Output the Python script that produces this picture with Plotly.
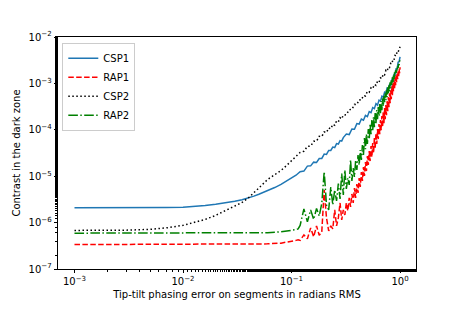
import plotly.graph_objects as go

# ---- sample positions (tip-tilt error, rad RMS) ----
x_csp = [0.001, 0.002, 0.003, 0.005, 0.007, 0.01, 0.013, 0.016, 0.02, 0.025,
         0.03, 0.035, 0.04, 0.045, 0.05, 0.06, 0.07, 0.08, 0.09, 0.1, 0.11,
         0.12, 0.13, 0.14, 0.15, 0.16, 0.17, 0.18, 0.19,
         0.20, 0.21, 0.22, 0.23, 0.24, 0.25, 0.26, 0.27, 0.28, 0.29, 0.30,
         0.32, 0.34, 0.36, 0.38, 0.40, 0.42, 0.44, 0.46, 0.48, 0.50,
         0.52, 0.54, 0.56, 0.58, 0.60, 0.62, 0.64, 0.66, 0.68, 0.70,
         0.72, 0.74, 0.76, 0.78, 0.80, 0.82, 0.84, 0.86, 0.88, 0.90,
         0.92, 0.94, 0.96, 0.98, 1.00]

x_rap = [0.001, 0.005, 0.01, 0.02, 0.04, 0.06, 0.08, 0.09, 0.1, 0.105, 0.11, 0.115,
         0.12, 0.13, 0.14, 0.15, 0.16, 0.17, 0.18, 0.19,
         0.20, 0.21, 0.22, 0.23, 0.24, 0.25, 0.26, 0.27, 0.28, 0.29,
         0.30, 0.31, 0.32, 0.33, 0.34, 0.35, 0.36, 0.37, 0.38, 0.39,
         0.40, 0.41, 0.42, 0.43, 0.44, 0.45, 0.46, 0.47, 0.48, 0.49,
         0.50, 0.51, 0.52, 0.53, 0.54, 0.55, 0.56, 0.57, 0.58, 0.59,
         0.60, 0.61, 0.62, 0.63, 0.64, 0.65, 0.66, 0.67, 0.68, 0.69,
         0.70, 0.71, 0.72, 0.73, 0.74, 0.75, 0.76, 0.77, 0.78, 0.79,
         0.80, 0.81, 0.82, 0.83, 0.84, 0.85, 0.86, 0.87, 0.88, 0.89,
         0.90, 0.91, 0.92, 0.93, 0.94, 0.95, 0.96, 0.97, 0.98, 0.99,
         1.00]

# ---- contrast in the dark zone ----
csp1 = [2.10e-6, 2.09e-6, 2.09e-6, 2.10e-6, 2.12e-6, 2.15e-6, 2.23e-6, 2.34e-6, 2.50e-6, 2.68e-6,
        2.88e-6, 3.12e-6, 3.40e-6, 3.72e-6, 4.08e-6, 4.85e-6, 5.69e-6, 6.64e-6, 7.89e-6, 9.02e-6, 1.05e-5,
        1.25e-5, 1.29e-5, 1.65e-5, 1.67e-5, 2.01e-5, 1.98e-5, 2.40e-5, 2.41e-5,
        3.00e-5, 2.95e-5, 3.58e-5, 3.58e-5, 4.25e-5, 4.15e-5, 5.05e-5, 4.93e-5, 5.86e-5, 5.70e-5, 6.80e-5,
        8.10e-5, 7.90e-5, 1.04e-4, 1.03e-4, 1.36e-4, 1.33e-4, 1.71e-4, 1.61e-4, 2.04e-4, 1.92e-4,
        2.47e-4, 2.34e-4, 3.01e-4, 2.86e-4, 3.67e-4, 3.40e-4, 4.36e-4, 4.15e-4, 5.31e-4, 5.05e-4,
        6.48e-4, 6.18e-4, 7.92e-4, 7.52e-4, 9.41e-4, 8.95e-4, 1.18e-3, 1.14e-3, 1.54e-3, 1.54e-3,
        2.07e-3, 2.07e-3, 2.86e-3, 2.93e-3, 3.72e-3]

csp2 = [6.79e-7, 6.79e-7, 6.87e-7, 7.15e-7, 7.69e-7, 8.71e-7, 1.01e-6, 1.17e-6, 1.43e-6, 1.83e-6,
        2.29e-6, 2.72e-6, 3.40e-6, 4.35e-6, 5.57e-6, 8.45e-6, 1.09e-5, 1.33e-5, 1.70e-5, 2.12e-5, 2.59e-5,
        3.25e-5, 3.45e-5, 4.40e-5, 4.45e-5, 5.65e-5, 5.70e-5, 7.25e-5, 7.15e-5,
        9.00e-5, 8.75e-5, 1.10e-4, 1.05e-4, 1.31e-4, 1.25e-4, 1.55e-4, 1.48e-4, 1.82e-4, 1.71e-4, 2.09e-4,
        2.10e-4, 2.72e-4, 2.75e-4, 3.53e-4, 3.50e-4, 4.45e-4, 4.38e-4, 5.51e-4, 5.35e-4, 6.72e-4,
        6.46e-4, 8.03e-4, 7.70e-4, 9.49e-4, 9.05e-4, 1.11e-3, 1.05e-3, 1.32e-3, 1.27e-3, 1.60e-3,
        1.53e-3, 1.91e-3, 1.82e-3, 2.26e-3, 2.20e-3, 2.70e-3, 2.63e-3, 3.29e-3, 3.20e-3, 4.01e-3,
        3.90e-3, 4.89e-3, 4.75e-3, 5.90e-3, 6.15e-3]

rap1 = [3.36e-7, 3.36e-7, 3.36e-7, 3.37e-7, 3.40e-7, 3.48e-7, 3.61e-7, 3.75e-7, 3.94e-7, 4.04e-7, 4.14e-7, 4.25e-7,
        4.14e-7, 5.44e-7, 4.46e-7, 7.69e-7, 4.93e-7, 8.49e-7, 5.31e-7, 6.31e-7,
        5.05e-6, 1.26e-6, 6.63e-7, 8.49e-7, 7.32e-7, 1.88e-6, 8.49e-7, 1.26e-6, 2.65e-6, 1.14e-6,
        1.88e-6, 1.46e-6, 2.65e-6, 1.79e-6, 3.40e-6, 2.18e-6, 4.14e-6, 2.65e-6, 5.57e-6, 3.40e-6,
        6.79e-6, 4.35e-6, 9.15e-6, 5.86e-6, 1.23e-5, 7.88e-6, 1.58e-5, 1.01e-5, 2.02e-5, 1.29e-5,
        2.72e-5, 1.74e-5, 3.48e-5, 2.12e-5, 4.46e-5, 2.59e-5, 5.18e-5, 3.15e-5, 6.63e-5, 4.04e-5,
        8.49e-5, 4.93e-5, 1.04e-4, 6.31e-5, 1.33e-4, 8.08e-5, 1.62e-4, 9.85e-5, 1.97e-4, 1.14e-4,
        2.40e-4, 1.39e-4, 2.93e-4, 1.70e-4, 3.40e-4, 2.07e-4, 4.14e-4, 2.52e-4, 5.05e-4, 3.08e-4,
        6.15e-4, 3.75e-4, 7.14e-4, 4.57e-4, 8.71e-4, 5.57e-4, 1.01e-3, 6.79e-4, 1.17e-3, 7.88e-4,
        1.36e-3, 9.15e-4, 1.50e-3, 1.06e-3, 1.66e-3, 1.23e-3, 1.83e-3, 1.43e-3, 2.02e-3, 1.66e-3,
        2.23e-3]

rap2 = [5.92e-7, 5.92e-7, 5.92e-7, 5.92e-7, 5.93e-7, 6.07e-7, 6.31e-7, 6.53e-7, 6.76e-7, 6.90e-7, 7.07e-7, 7.32e-7,
        8.71e-7, 1.97e-6, 1.04e-6, 1.88e-6, 1.17e-6, 2.02e-6, 1.39e-6, 2.59e-6,
        1.26e-5, 2.40e-6, 1.88e-6, 5.86e-6, 2.40e-6, 5.05e-6, 2.93e-6, 6.97e-6, 3.23e-6, 1.14e-5,
        3.94e-6, 1.36e-5, 5.31e-6, 9.15e-6, 6.47e-6, 2.23e-5, 7.88e-6, 1.50e-5, 9.61e-6, 2.23e-5,
        1.36e-5, 2.86e-5, 1.74e-5, 3.66e-5, 2.23e-5, 4.69e-5, 2.86e-5, 6.63e-5, 3.84e-5, 8.08e-5,
        4.93e-5, 1.04e-4, 6.31e-5, 1.33e-4, 8.08e-5, 1.62e-4, 9.85e-5, 1.88e-4, 1.14e-4, 2.29e-4,
        1.39e-4, 2.65e-4, 1.70e-4, 3.08e-4, 1.97e-4, 3.57e-4, 2.29e-4, 4.14e-4, 2.65e-4, 4.80e-4,
        3.23e-4, 5.31e-4, 3.75e-4, 6.15e-4, 4.35e-4, 7.14e-4, 5.05e-4, 8.29e-4, 5.86e-4, 9.15e-4,
        6.79e-4, 1.06e-3, 7.88e-4, 1.17e-3, 9.15e-4, 1.36e-3, 1.06e-3, 1.50e-3, 1.23e-3, 1.74e-3,
        1.43e-3, 1.92e-3, 1.66e-3, 2.12e-3, 1.83e-3, 2.34e-3, 2.12e-3, 2.72e-3, 2.46e-3, 3.00e-3,
        3.15e-3]

names = ["CSP1", "RAP1", "CSP2", "RAP2"]

x_tickvals = [1e-3, 1e-2, 1e-1, 1e0]
x_ticktext = ["10<sup>\u22123</sup>", "10<sup>\u22122</sup>", "10<sup>\u22121</sup>", "10<sup>0</sup>"]
y_tickvals = [1e-7, 1e-6, 1e-5, 1e-4, 1e-3, 1e-2]
y_ticktext = ["10<sup>\u22127</sup>", "10<sup>\u22126</sup>", "10<sup>\u22125</sup>",
              "10<sup>\u22124</sup>", "10<sup>\u22123</sup>", "10<sup>\u22122</sup>"]

FONT = "DejaVu Sans"
fig = go.Figure()
fig.add_trace(go.Scatter(x=x_csp, y=csp1, name=names[0], mode="lines",
                         line=dict(color="#1f77b4", width=1.5)))
fig.add_trace(go.Scatter(x=x_rap, y=rap1, name=names[1], mode="lines",
                         line=dict(color="#ff0000", width=1.5, dash="5.5px,2.4px")))
fig.add_trace(go.Scatter(x=x_csp, y=csp2, name=names[2], mode="lines",
                         line=dict(color="#000000", width=1.5, dash="1.5px,2.5px")))
fig.add_trace(go.Scatter(x=x_rap, y=rap2, name=names[3], mode="lines",
                         line=dict(color="#008000", width=1.5, dash="9.6px,2.4px,1.5px,2.4px")))

axis_common = dict(type="log", showgrid=False, zeroline=False, showline=True,
                   linecolor="black", linewidth=0.8, mirror=True, automargin=False,
                   ticks="outside", ticklen=3.5, tickwidth=0.8, tickcolor="black",
                   tickmode="array",
                   tickfont=dict(family=FONT, size=10, color="black"),
                   minor=dict(ticks="outside", ticklen=2, tickwidth=0.6, tickcolor="black",
                              showgrid=False))

fig.update_xaxes(range=[-3.152, 0.147], tickvals=x_tickvals, ticktext=x_ticktext,
                 title=dict(text="Tip-tilt phasing error on segments in radians RMS",
                            font=dict(family=FONT, size=10, color="black"), standoff=4),
                 **axis_common)
fig.update_yaxes(range=[-7, -2], tickvals=y_tickvals, ticktext=y_ticktext,
                 title=dict(text="Contrast in the dark zone",
                            font=dict(family=FONT, size=10, color="black"), standoff=6),
                 **axis_common)

# the page body adds an 8 px offset; the figure is sized so the plot box lands where the reference has it
fig.update_layout(
    width=455, height=301,
    margin=dict(l=50, r=47, t=29, b=40),
    paper_bgcolor="white", plot_bgcolor="white",
    font=dict(family=FONT, size=10, color="black"),
    showlegend=True,
    legend=dict(x=0.012, y=0.975, xanchor="left", yanchor="top",
                bgcolor="rgba(255,255,255,0.8)", bordercolor="#cccccc", borderwidth=1,
                font=dict(family=FONT, size=10, color="black"),
                itemwidth=30),
)

fig.write_html("out.html")
